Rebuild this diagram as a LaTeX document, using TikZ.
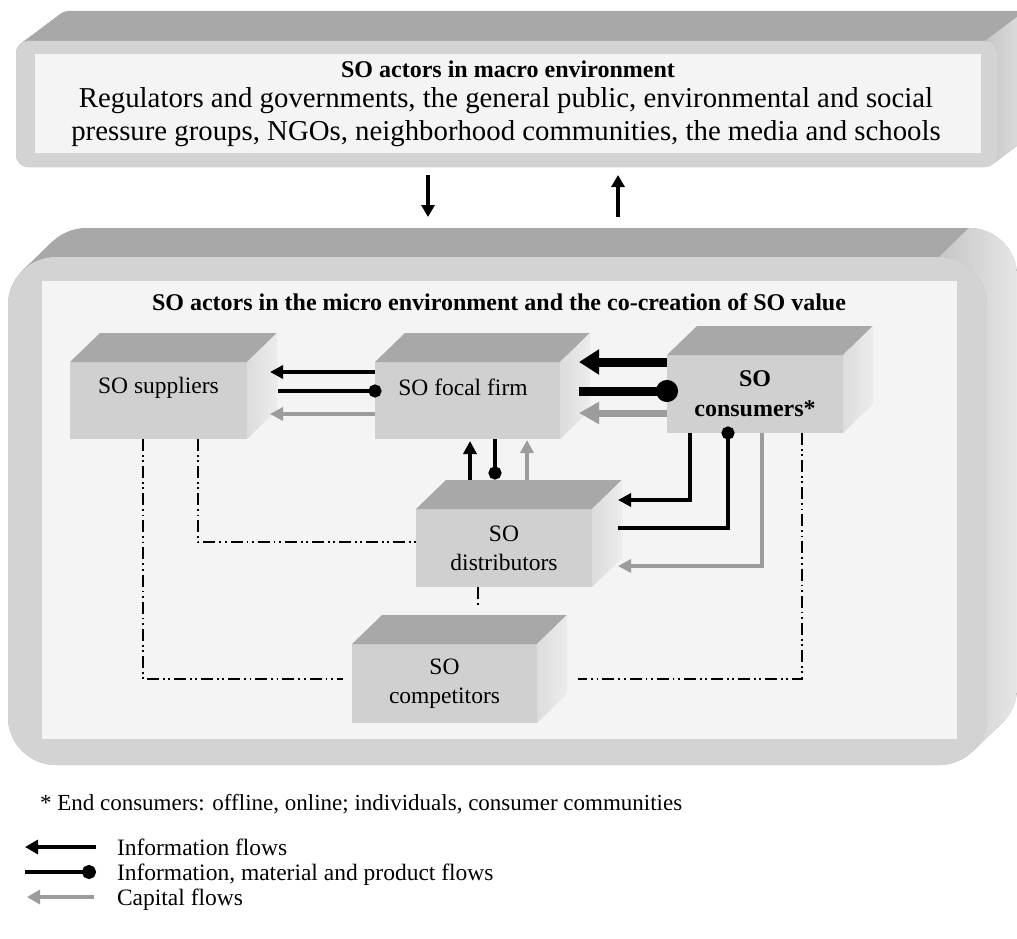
\documentclass[tikz,border=0pt]{standalone}
\usepackage{fontspec}
\setmainfont{Liberation Serif}
\usetikzlibrary{arrows.meta,calc}
\definecolor{topg}{HTML}{A8A8A8}
\definecolor{frontg}{HTML}{D0D0D0}
\definecolor{sideL}{HTML}{DCDCDC}
\definecolor{sideR}{HTML}{ECECEC}
\definecolor{slabg}{HTML}{D3D3D3}
\definecolor{panelg}{HTML}{F4F4F4}
\definecolor{capg}{HTML}{9C9C9C}
\definecolor{slabsideL}{HTML}{C6C6C6}
\definecolor{slabsideR}{HTML}{E6E6E6}
\newcommand{\cubefaces}[1]{%
  \fill[topg] (#1.north west) -- ++(30pt,29pt) -- ($(#1.north east)+(30pt,29pt)$) -- (#1.north east) -- cycle;
  \shade[left color=sideL, right color=sideR] (#1.north east) -- ++(30pt,29pt) -- ($(#1.south east)+(30pt,29pt)$) -- (#1.south east) -- cycle;}
\begin{document}
\begin{tikzpicture}[x=1pt,y=-1pt,
  every node/.style={inner sep=0pt, outer sep=0pt},
  txt/.style={font=\fontsize{23.5}{29}\selectfont},
  cubefront/.style={fill=frontg},
  info/.style={draw=black, line width=4pt, -{Triangle[length=13pt,width=13pt]}},
  mat/.style={draw=black, line width=4pt, -{Circle[length=13pt]}},
  capf/.style={draw=capg, line width=4pt, -{Triangle[length=13pt,width=13pt]}},
  infoT/.style={draw=black, line width=9pt, -{Triangle[length=20pt,width=24pt]}},
  matT/.style={draw=black, line width=9pt, -{Circle[length=22pt]}},
  capT/.style={draw=capg, line width=7pt, -{Triangle[length=20pt,width=21pt]}},
  dashdd/.style={draw=black, line width=2pt, dash pattern=on 12pt off 4pt on 1.8pt off 3.5pt on 1.8pt off 4pt}
]
\useasboundingbox (0,0) rectangle (1017,939);
\fill[white] (0,0) rectangle (1017,939);
\clip (0,0) rectangle (1017,939);

% ---------- macro slab ----------
\foreach \i in {0,...,20}
  \fill[topg, rounded corners=12pt] ($(16,41)+(\i*2,-\i*1.5)$) rectangle ++(981,126);
\shade[left color=slabsideL, right color=slabsideR]
  (985,41) -- (1025,11) arc[start angle=90, end angle=0, radius=12pt]
  -- (1037,125) arc[start angle=0, end angle=-46, radius=12pt]
  -- (993.3,163.6) arc[start angle=-46, end angle=0, radius=12pt]
  -- (997,53) arc[start angle=0, end angle=90, radius=12pt] -- cycle;
\node[fill=slabg, rounded corners=12pt, minimum width=981pt, minimum height=126pt] (macro) at (506.5,104) {};
\node[fill=panelg, minimum width=946pt, minimum height=99pt] (macropanel) at (508,103.5) {};
\node[anchor=base, font=\fontsize{24}{28}\bfseries\selectfont] (mtitle) at (508,78) {SO actors in macro environment};
\node[anchor=base, font=\fontsize{28.8}{33}\selectfont] (mline1) at (506,108) {Regulators and governments, the general public, environmental and social};
\node[anchor=base, font=\fontsize{28.8}{33}\selectfont] (mline2) at (506,141) {pressure groups, NGOs, neighborhood communities, the media and schools};

% ---------- micro slab ----------
\foreach \i in {0,...,20}
  \fill[topg, rounded corners=48pt] ($(8,257)+(\i*1.5,-\i*1.45)$) rectangle ++(979,508);
\shade[left color=slabsideL, right color=slabsideR]
  (939,257) -- (969,228) arc[start angle=90, end angle=0, radius=48pt]
  -- (1017,688) arc[start angle=0, end angle=-46, radius=48pt]
  -- (972.3,751.5) arc[start angle=-46, end angle=0, radius=48pt]
  -- (987,305) arc[start angle=0, end angle=90, radius=48pt] -- cycle;
\node[fill=slabg, rounded corners=48pt, minimum width=979pt, minimum height=508pt] (micro) at (497.5,511) {};
\node[fill=panelg, minimum width=915pt, minimum height=458pt] (micropanel) at (499.5,510) {};
\node[anchor=base, font=\fontsize{24}{28}\bfseries\selectfont] (utitle) at (499,310) {SO actors in the micro environment and the co-creation of SO value};

% ---------- macro <-> micro arrows ----------
\draw[draw=black, line width=4pt, -{Triangle[length=12pt,width=13pt]}] ([xshift=-78.5pt,yshift=-8pt]macro.south) -- ([xshift=-69.5pt,yshift=40pt]micro.north);
\draw[draw=black, line width=4pt, -{Triangle[length=12pt,width=13pt]}] ([xshift=120.5pt,yshift=40pt]micro.north) -- ([xshift=111.5pt,yshift=-8pt]macro.south);

% ---------- boxes ----------
\node[cubefront, minimum width=177pt, minimum height=77pt] (sup) at (158.5,400.5) {};
\cubefaces{sup}
\node[txt] (suplbl) at ([yshift=12.5pt]sup.center) {SO suppliers};

\node[cubefront, minimum width=185pt, minimum height=77pt] (foc) at (467.5,400.5) {};
\cubefaces{foc}
\node[txt] (foclbl) at ([xshift=-4.5pt,yshift=13.5pt]foc.center) {SO focal firm};

\node[cubefront, minimum width=176pt, minimum height=78pt, align=center, font=\fontsize{24}{30}\bfseries\selectfont] (con) at (755,394) {SO\\consumers*};
\cubefaces{con}

\node[cubefront, minimum width=176pt, minimum height=78pt, align=center, txt] (dis) at (504,548) {SO\\distributors};
\cubefaces{dis}

\node[cubefront, minimum width=185pt, minimum height=79pt, align=center, txt] (com) at (444.5,683.5) {SO\\competitors};
\cubefaces{com}

% ---------- suppliers <-> focal firm ----------
\draw[info] ([yshift=28.5pt]foc.west) -- ([xshift=23pt,yshift=28.5pt]sup.east);
\draw[mat] ([xshift=31pt,yshift=9.5pt]sup.east) -- ([xshift=6.5pt,yshift=9.5pt]foc.west);
\draw[capf] ([yshift=-13.5pt]foc.west) -- ([xshift=23pt,yshift=-13.5pt]sup.east);

% ---------- focal firm <-> consumers ----------
\draw[infoT] ([yshift=32pt]con.west) -- ([xshift=19pt,yshift=38.5pt]foc.east);
\draw[matT] ([xshift=19pt,yshift=9.5pt]foc.east) -- ([xshift=11pt,yshift=3pt]con.west);
\draw[capT] ([yshift=-19pt]con.west) -- ([xshift=19pt,yshift=-12.5pt]foc.east);

% ---------- focal firm <-> distributors ----------
\draw[info] ([xshift=-34pt,yshift=29pt]dis.north) -- ([xshift=2.5pt,yshift=-2pt]foc.south);
\draw[mat] ([xshift=27.5pt]foc.south) -- ([xshift=-9pt,yshift=29.5pt]dis.north);
\draw[capf] ([xshift=23pt,yshift=29pt]dis.north) -- ([xshift=59.5pt,yshift=-1pt]foc.south);

% ---------- consumers <-> distributors ----------
\draw[info] ([xshift=-65pt]con.south) |- ([xshift=26pt,yshift=48pt]dis.east);
\draw[mat] ([xshift=26pt,yshift=20pt]dis.east) -| ([xshift=-27pt,yshift=6.5pt]con.south);
\draw[capf] ([xshift=7pt]con.south) |- ([xshift=26pt,yshift=-18pt]dis.east);

% ---------- competition links ----------
\draw[dashdd] ([xshift=-15.5pt]sup.south) |- ([xshift=-9pt,yshift=4.5pt]com.west);
\draw[dashdd] ([xshift=39.5pt]sup.south) |- ([yshift=6pt]dis.west);
\draw[dashdd] ([xshift=-26pt]dis.south) -- ++(0,21);
\draw[dashdd] ([xshift=47pt]con.south) |- ([xshift=41pt,yshift=4.5pt]com.east);

% ---------- footnote and legend ----------
\node[anchor=base west, font=\fontsize{23}{28}\selectfont] (foot) at (40,810) {* End consumers: offline, online; individuals, consumer communities};

\coordinate (l1a) at (96,847); \coordinate (l1b) at (25,847);
\coordinate (l2a) at (25,872); \coordinate (l2b) at (96,872);
\coordinate (l3a) at (94,897); \coordinate (l3b) at (27,897);
\draw[draw=black, line width=4.5pt, -{Triangle[length=13pt,width=14pt]}] (l1a) -- (l1b);
\draw[draw=black, line width=4.5pt, -{Circle[length=14pt]}] (l2a) -- (l2b);
\draw[draw=capg, line width=4.5pt, -{Triangle[length=13pt,width=14pt]}] (l3a) -- (l3b);
\node[anchor=base west, txt] (leg1) at (117,855) {Information flows};
\node[anchor=base west, txt] (leg2) at (117,880) {Information, material and product flows};
\node[anchor=base west, txt] (leg3) at (117,905) {Capital flows};
\end{tikzpicture}
\end{document}
